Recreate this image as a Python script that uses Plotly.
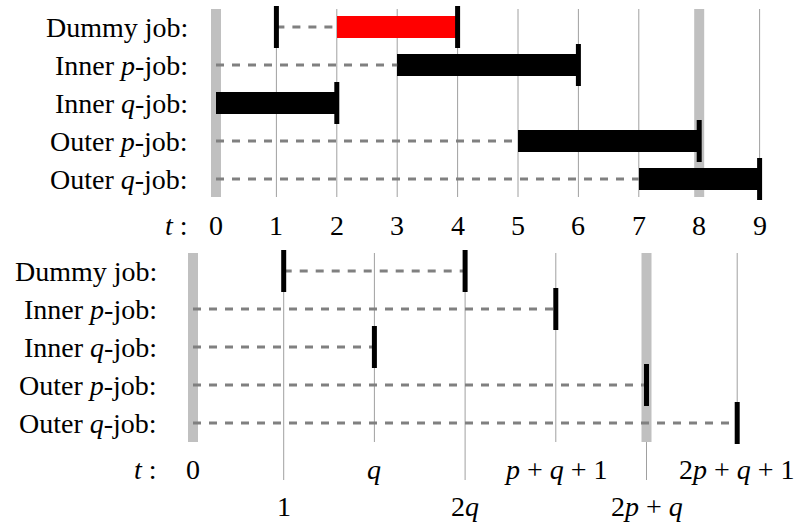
import plotly.graph_objects as go

# ---------------- data ----------------
job_labels = ["Dummy job:", "Inner <i>p</i>-job:", "Inner <i>q</i>-job:",
              "Outer <i>p</i>-job:", "Outer <i>q</i>-job:"]

# top panel (numeric example)
top_ticks = [0, 1, 2, 3, 4, 5, 6, 7, 8, 9]
top_tick_labels = ["0", "1", "2", "3", "4", "5", "6", "7", "8", "9"]
top_bands = [0, 8]
top_release = [1, 0, 0, 0, 0]
top_start = [2, 3, 0, 5, 7]
top_end = [4, 6, 2, 8, 9]
top_colors = ["#ff0000", "#000000", "#000000", "#000000", "#000000"]
top_release_tick = [True, False, False, False, False]

# bottom panel (symbolic)
bot_ticks = [0, 1, 2, 3, 4, 5, 6]
bot_tick_labels = ["0", "1", "<i>q</i>", "2<i>q</i>", "<i>p</i> + <i>q</i> + 1",
                   "2<i>p</i> + <i>q</i>", "2<i>p</i> + <i>q</i> + 1"]
bot_label_row = [0, 1, 0, 1, 0, 1, 0]
bot_bands = [0, 5]
bot_release = [1, 0, 0, 0, 0]
bot_end = [3, 4, 2, 5, 6]
bot_release_tick = [True, False, False, False, False]

# ---------------- layout geometry (pixels) ----------------
W, H = 798, 523
FONT = dict(family="'Liberation Serif', 'Times New Roman', serif", size=28, color="black")
ROW = 38.0
# top
T_X0, T_UNIT, T_Y0 = 216.0, 60.4, 27.0
T_BOTTOM = 245.0
# bottom
B_X0, B_UNIT, B_Y0 = 193.0, 90.7, 271.0

def t_y(py):
    return (py - T_Y0) / ROW

def b_y(py):
    return (py - B_Y0) / ROW

GRID = "#a0a0a0"
BAND = "#c0c0c0"
DASH = "#808080"

fig = go.Figure()
shapes = []
annotations = []

# ---------- TOP PANEL ----------
for v in top_ticks:
    if v == 0:
        continue
    shapes.append(dict(type="line", xref="x", yref="y", x0=v, x1=v,
                       y0=t_y(9), y1=t_y(197), line=dict(color=GRID, width=1), layer="below"))
for v in top_bands:
    hw = 5.0 / T_UNIT
    shapes.append(dict(type="rect", xref="x", yref="y", x0=v - hw, x1=v + hw,
                       y0=t_y(9), y1=t_y(197), fillcolor=BAND, line=dict(width=0), layer="below"))

for i in range(len(job_labels)):
    if top_start[i] > top_release[i]:
        fig.add_trace(go.Scatter(x=[top_release[i], top_start[i]], y=[i, i], mode="lines",
                                 line=dict(color=DASH, width=3, dash="8px,8px"),
                                 xaxis="x", yaxis="y", hoverinfo="skip", showlegend=False))
fig.add_trace(go.Bar(orientation="h", y=list(range(len(job_labels))),
                     x=[e - s for s, e in zip(top_start, top_end)], base=top_start,
                     width=22.0 / ROW, marker=dict(color=top_colors, line=dict(width=0)),
                     xaxis="x", yaxis="y", showlegend=False, hoverinfo="skip"))
tick_x, tick_y = [], []
for i in range(len(job_labels)):
    tick_x.append(top_end[i]); tick_y.append(i)
    if top_release_tick[i]:
        tick_x.append(top_release[i]); tick_y.append(i)
fig.add_trace(go.Scatter(x=tick_x, y=tick_y, mode="markers",
                         marker=dict(symbol="line-ns", size=30, line=dict(width=5, color="black")),
                         xaxis="x", yaxis="y", hoverinfo="skip", showlegend=False))

for i, lab in enumerate(job_labels):
    annotations.append(dict(text=lab, xref="paper", x=190 / W, xanchor="right",
                            yref="y", y=i, yanchor="middle", showarrow=False, font=FONT))
annotations.append(dict(text="<i>t</i> :", xref="paper", x=190 / W, xanchor="right",
                        yref="y", y=t_y(225), yanchor="middle", showarrow=False, font=FONT))
for v, lab in zip(top_ticks, top_tick_labels):
    annotations.append(dict(text=lab, xref="x", x=v, xanchor="center",
                            yref="y", y=t_y(225), yanchor="middle", showarrow=False, font=FONT))

# ---------- BOTTOM PANEL ----------
for v, r in zip(bot_ticks, bot_label_row):
    if v == 0:
        continue
    y1 = 480 if r == 1 else 442
    shapes.append(dict(type="line", xref="x2", yref="y2", x0=v, x1=v,
                       y0=b_y(253), y1=b_y(y1), line=dict(color=GRID, width=1), layer="below"))
for v in bot_bands:
    hw = 5.0 / B_UNIT
    shapes.append(dict(type="rect", xref="x2", yref="y2", x0=v - hw, x1=v + hw,
                       y0=b_y(253), y1=b_y(442), fillcolor=BAND, line=dict(width=0), layer="below"))

for i in range(len(job_labels)):
    fig.add_trace(go.Scatter(x=[bot_release[i], bot_end[i]], y=[i, i], mode="lines",
                             line=dict(color=DASH, width=3, dash="8px,8px"),
                             xaxis="x2", yaxis="y2", hoverinfo="skip", showlegend=False))
tick_x, tick_y = [], []
for i in range(len(job_labels)):
    tick_x.append(bot_end[i]); tick_y.append(i)
    if bot_release_tick[i]:
        tick_x.append(bot_release[i]); tick_y.append(i)
fig.add_trace(go.Scatter(x=tick_x, y=tick_y, mode="markers",
                         marker=dict(symbol="line-ns", size=30, line=dict(width=5, color="black")),
                         xaxis="x2", yaxis="y2", hoverinfo="skip", showlegend=False))

for i, lab in enumerate(job_labels):
    annotations.append(dict(text=lab, xref="paper", x=159 / W, xanchor="right",
                            yref="y2", y=i, yanchor="middle", showarrow=False, font=FONT))
annotations.append(dict(text="<i>t</i> :", xref="paper", x=159 / W, xanchor="right",
                        yref="y2", y=b_y(469), yanchor="middle", showarrow=False, font=FONT))
for v, lab, r in zip(bot_ticks, bot_tick_labels, bot_label_row):
    py = 506 if r == 1 else 469
    annotations.append(dict(text=lab, xref="x2", x=v, xanchor="center",
                            yref="y2", y=b_y(py), yanchor="middle", showarrow=False, font=FONT))

ax_common = dict(showgrid=False, zeroline=False, showticklabels=False, ticks="",
                 showline=False, fixedrange=True)
fig.update_layout(
    width=W, height=H, margin=dict(l=0, r=0, t=0, b=0),
    paper_bgcolor="white", plot_bgcolor="rgba(0,0,0,0)",
    barmode="overlay", bargap=0,
    xaxis=dict(domain=[0, 1], range=[(0 - T_X0) / T_UNIT, (W - T_X0) / T_UNIT], anchor="y", **ax_common),
    yaxis=dict(domain=[1 - T_BOTTOM / H, 1], range=[t_y(T_BOTTOM), t_y(0)], anchor="x", **ax_common),
    xaxis2=dict(domain=[0, 1], range=[(0 - B_X0) / B_UNIT, (W - B_X0) / B_UNIT], anchor="y2", **ax_common),
    yaxis2=dict(domain=[0, 1 - T_BOTTOM / H], range=[b_y(H), b_y(T_BOTTOM)], anchor="x2", **ax_common),
    shapes=shapes, annotations=annotations, showlegend=False,
)

fig.write_html("out.html", config=dict(displayModeBar=False),
               post_script="document.body.style.margin='0';document.body.style.overflow='hidden';")
